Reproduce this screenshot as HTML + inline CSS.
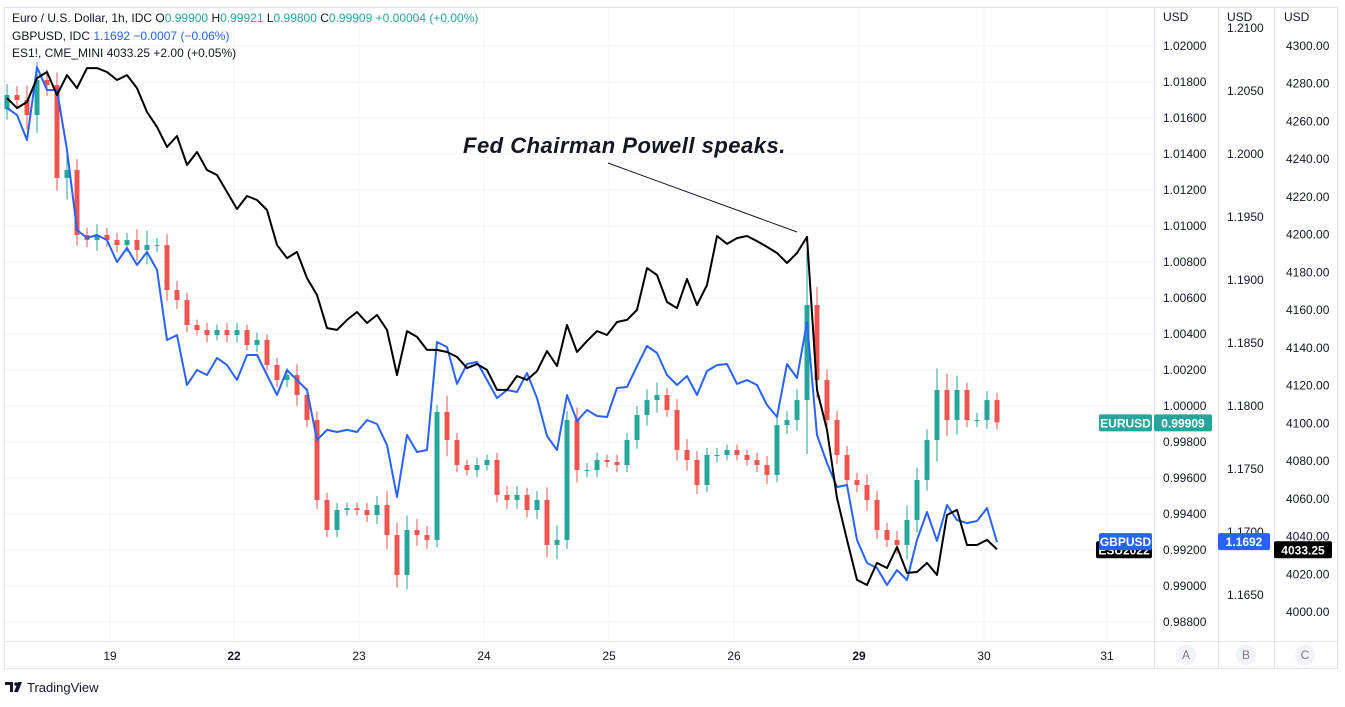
<!DOCTYPE html>
<html><head><meta charset="utf-8">
<style>
html,body{margin:0;padding:0;background:#fff;}
body{width:1345px;height:702px;overflow:hidden;font-family:"Liberation Sans",sans-serif;}
svg text{font-family:"Liberation Sans",sans-serif;}
</style></head>
<body>
<svg id="chart" width="1345" height="702" xmlns="http://www.w3.org/2000/svg">
</svg>
<script>
// ---- data ----
const dateLabels = ["19","22","23","24","25","26","29","30","31"];
const dateIdx = [10.3,22.7,35.2,47.7,60.2,72.7,85.2,97.7,110.0];
const boldDates = ["22","29"];
const eurTicks = [1.02,1.018,1.016,1.014,1.012,1.010,1.008,1.006,1.004,1.002,1.000,0.998,0.996,0.994,0.992,0.990,0.988];
const gbpTicks = [1.2100,1.2050,1.2000,1.1950,1.1900,1.1850,1.1800,1.1750,1.1700,1.1650];
const esTicks = [4300,4280,4260,4240,4220,4200,4180,4160,4140,4120,4100,4080,4060,4040,4020,4000];
const eurClose = [1.01728,1.01700,1.01617,1.01811,1.01783,1.01267,1.01311,1.00950,1.00922,1.00950,
1.00922,1.00894,1.00922,1.00867,1.00894,1.00894,1.00644,1.00589,1.00450,1.00422,
1.00394,1.00422,1.00394,1.00422,1.00339,1.00367,1.00228,1.00144,1.00172,1.00061,
0.99922,0.99478,0.99311,0.99422,0.99433,0.99422,0.99394,0.99450,0.99283,0.99061,
0.99311,0.99283,0.99256,0.99967,0.99811,0.99672,0.99644,0.99672,0.99700,0.99506,
0.99478,0.99506,0.99422,0.99478,0.99228,0.99256,0.99922,0.99644,0.99644,0.99700,
0.99689,0.99672,0.99811,0.99950,1.00033,1.00061,0.99978,0.99756,0.99700,0.99561,
0.99728,0.99728,0.99756,0.99728,0.99700,0.99672,0.99617,0.99894,0.99922,1.00033,
1.00561,1.00144,0.99922,0.99728,0.99589,0.99561,0.99478,0.99311,0.99256,0.99228,
0.99367,0.99589,0.99811,1.00089,0.99922,1.00089,0.99922,0.99922,1.00033,0.99909];
const eurOpen0 = 1.01650;
const eurWick = [0.0006,0.0005,0.0008,0.0010,0.0006,0.0007,0.0012,0.0006,0.0004,0.0006,
0.0004,0.0004,0.0004,0.0006,0.0008,0.0004,0.0006,0.0005,0.0004,0.0003,
0.0004,0.0003,0.0004,0.0004,0.0003,0.0004,0.0003,0.0004,0.0004,0.0006,
0.0004,0.0005,0.0004,0.0004,0.0003,0.0003,0.0004,0.0005,0.0008,0.0007,
0.0008,0.0006,0.0005,0.0004,0.0009,0.0004,0.0003,0.0004,0.0003,0.0004,
0.0005,0.0005,0.0004,0.0005,0.0007,0.0008,0.0005,0.0007,0.0004,0.0004,
0.0003,0.0004,0.0004,0.0005,0.0006,0.0007,0.0004,0.0006,0.0006,0.0005,
0.0004,0.0004,0.0003,0.0003,0.0003,0.0004,0.0005,0.0004,0.0005,0.0006,
0.0030,0.0010,0.0006,0.0005,0.0005,0.0004,0.0006,0.0005,0.0004,0.0005,
0.0008,0.0007,0.0006,0.0012,0.0009,0.0008,0.0004,0.0004,0.0005,0.0004];
const gbpValues = [1.20365,1.20310,1.20111,1.20690,1.20508,1.20508,1.20032,1.19397,1.19333,1.19357,
1.19317,1.19143,1.19254,1.19119,1.19222,1.19079,1.18524,1.18563,1.18167,1.18286,
1.18246,1.18381,1.18325,1.18206,1.18405,1.18405,1.18246,1.18087,1.18286,1.18206,
1.18127,1.17730,1.17810,1.17794,1.17810,1.17794,1.17889,1.17857,1.17690,1.17278,
1.17770,1.17635,1.17651,1.18508,1.18468,1.18175,1.18333,1.18349,1.18206,1.18063,
1.18127,1.18111,1.18262,1.18063,1.17762,1.17651,1.18087,1.17881,1.17968,1.17921,
1.17913,1.18143,1.18151,1.18317,1.18476,1.18421,1.18246,1.18167,1.18238,1.18087,
1.18278,1.18325,1.18333,1.18175,1.18206,1.18167,1.18008,1.17913,1.18333,1.18222,
1.18667,1.17770,1.17548,1.17357,1.17373,1.16937,1.16754,1.16714,1.16579,1.16698,
1.16619,1.16937,1.17159,1.16929,1.17214,1.17095,1.17071,1.17087,1.17190,1.16920];
const esValues = [4272.4,4267.1,4270.3,4283.0,4286.2,4274.0,4284.6,4277.7,4288.3,4288.3,
4286.2,4282.0,4284.6,4277.7,4265.0,4257.1,4246.5,4252.3,4236.9,4243.8,
4234.3,4231.6,4222.6,4213.6,4220.5,4218.4,4213.1,4194.5,4187.6,4190.8,
4177.0,4168.0,4150.5,4149.5,4154.8,4159.0,4153.2,4157.4,4149.5,4125.6,
4148.9,4145.8,4138.9,4138.9,4137.8,4135.2,4129.3,4131.4,4128.3,4117.7,
4117.7,4125.1,4123.0,4127.7,4138.3,4130.4,4152.1,4137.8,4143.6,4148.9,
4146.8,4153.7,4154.8,4160.1,4182.3,4178.6,4164.3,4161.1,4176.5,4162.7,
4173.3,4199.3,4195.1,4198.2,4199.3,4196.6,4193.5,4190.3,4185.0,4190.3,
4198.8,4117.7,4096.5,4060.4,4038.2,4017.0,4014.3,4026.0,4023.3,4034.5,
4020.7,4021.2,4026.0,4019.6,4051.4,4054.1,4035.5,4035.5,4038.2,4033.25];

// ---- axes ----
const NS = "http://www.w3.org/2000/svg";
const svg = document.getElementById('chart');
const X0 = 7, STEP = 10;
const xOf = i => X0 + i*STEP;
const yEur = v => 46 + (1.02 - v)/0.002*36;
const yGbp = v => 406 + (1.18 - v)*12600;
const yEs = v => 46 + (4300 - v)/300*566;
function mk(tag, attrs, parent){ const e=document.createElementNS(NS,tag); for(const k in attrs) e.setAttribute(k,attrs[k]); (parent||svg).appendChild(e); return e; }

// grid
const grid = mk('g',{}); 


eurTicks.forEach(t=>{ mk('line',{x1:5,x2:1154,y1:yEur(t),y2:yEur(t),stroke:'#f0f3fa','stroke-width':1},grid); });
dateLabels.forEach((d,k)=>{ const x=xOf(dateIdx[k]); mk('line',{x1:x,x2:x,y1:8,y2:641,stroke:'#f0f3fa','stroke-width':1},grid); });

// frame
const frame = mk('g',{fill:'none',stroke:'#e0e3eb','stroke-width':1});


mk('rect',{x:4.5,y:7.5,width:1333,height:661},frame);
[1154,1218,1274].forEach(x=>mk('line',{x1:x+0.5,x2:x+0.5,y1:8,y2:668},frame));
mk('line',{x1:5,x2:1338,y1:641.5,y2:641.5},frame);

// axis labels
function axisText(x,y,txt,name,opts){ const t=mk('text',Object.assign({x:x,y:y,'font-size':12,fill:'#131722'},opts||{})); t.textContent=txt;   return t; }
const ax = mk('g',{});


eurTicks.forEach(t=>{ axisText(1163,yEur(t)+4,t.toFixed(5),'eurusd-tick').remove; });
gbpTicks.forEach(t=>{ axisText(1227,yGbp(t)+4,t.toFixed(4),'gbpusd-tick'); });
esTicks.forEach(t=>{ axisText(1286,yEs(t)+4,t.toFixed(2),'es-tick'); });
[1163,1227,1284].forEach((x,k)=>axisText(x,21,'USD','axis-currency-'+['a','b','c'][k]));
dateLabels.forEach((d,k)=>{ const t=axisText(xOf(dateIdx[k]),660,d,'date-label-'+d,{'text-anchor':'middle','font-weight':boldDates.includes(d)?'bold':'normal'}); });
[['A',1186],['B',1246],['C',1305]].forEach(([l,x])=>{
  const c=mk('circle',{cx:x,cy:655,r:10,fill:'#f0f3fa'});
  
  
  axisText(x,659,l,'scale-letter-'+l.toLowerCase(),{'text-anchor':'middle',fill:'#787b86'});
});

// candles
const cg = mk('g',{});


eurClose.forEach((c,i)=>{
  const o = i===0 ? eurOpen0 : eurClose[i-1];
  const hi = Math.max(o,c)+eurWick[i], lo = Math.min(o,c)-eurWick[i];
  const col = c>=o ? '#26a69a' : '#ef5350';
  const x = xOf(i);
  const g = mk('g',{},cg);
  
  
  mk('line',{x1:x,x2:x,y1:yEur(hi),y2:yEur(lo),stroke:col,'stroke-width':1},g);
  const y1=yEur(Math.max(o,c)), y2=yEur(Math.min(o,c));
  mk('rect',{x:x-2.5,y:y1,width:5,height:Math.max(1,y2-y1),fill:col},g);
});

// lines
function line(vals, yf, col, name){
  const p = vals.map((v,i)=>(i?'L':'M')+xOf(i).toFixed(1)+','+yf(v).toFixed(1)).join(' ');
  const e = mk('path',{d:p,fill:'none',stroke:col,'stroke-width':2,'stroke-linejoin':'round'});
  
  
}
line(gbpValues, yGbp, '#2962ff', 'gbpusd-line');
line(esValues, yEs, '#000000', 'es-line');

// price tags
function tag(x,y,w,txt,bg,name,fg){ const g=mk('g',{});  
  mk('rect',{x:x,y:y,width:w,height:17,rx:2,fill:bg},g);
  const t=mk('text',{x:x+w/2,y:y+13,'text-anchor':'middle','font-size':12,'font-weight':'bold',fill:fg||'#fff'},g); t.textContent=txt; }
const lastE = eurClose[eurClose.length-1], lastG = gbpValues[gbpValues.length-1], lastS = esValues[esValues.length-1];
tag(1099,yEur(lastE)-8,53,'EURUSD','#26a69a','eurusd-name-tag');
tag(1154,yEur(lastE)-8,58,lastE.toFixed(5),'#26a69a','eurusd-price-tag');
tag(1096,yEs(lastS)-8,56,'ESU2022','#000','es-name-tag');
tag(1099,yGbp(lastG)-9,53,'GBPUSD','#2962ff','gbpusd-name-tag');
tag(1218,yGbp(lastG)-9,52,lastG.toFixed(4),'#2962ff','gbpusd-price-tag');
tag(1274,yEs(lastS)-8,58,lastS.toFixed(2),'#000','es-price-tag');

// annotation
const an = mk('g',{});  
mk('line',{x1:608,y1:163,x2:797,y2:232,stroke:'#131722','stroke-width':1},an);
const at = mk('text',{x:463,y:153,'font-size':22,'font-style':'italic','font-weight':'bold',fill:'#131722','letter-spacing':'0.5'},an);
at.textContent='Fed Chairman Powell speaks.';

// legend
const lg = mk('g',{'font-size':12});  
function leg(y,parts,name){ const t=mk('text',{x:12,y:y},lg);  
  parts.forEach(([s,c])=>{ const ts=mk('tspan',{fill:c},t); ts.textContent=s; }); }
const G='#26a69a', K='#131722', B='#2962ff';
leg(22,[['Euro / U.S. Dollar, 1h, IDC  O',K],['0.99900',G],['  H',K],['0.99921',G],['  L',K],['0.99800',G],['  C',K],['0.99909',G],['  +0.00004 (+0.00%)',G]],'legend-eurusd');
leg(40,[['GBPUSD, IDC  ',K],['1.1692  \u22120.0007 (\u22120.06%)',B]],'legend-gbpusd');
leg(57,[['ES1!, CME_MINI  4033.25  +2.00 (+0.05%)',K]],'legend-es');

// logo
const lo = mk('g',{});  
mk('path',{d:'M5 682h8v10h-3v-7h-5z M14 692l4-10h4l-4 10z',fill:'#131722'},lo);
mk('circle',{cx:16,cy:684,r:1.8,fill:'#131722'},lo);
const lt=mk('text',{x:27,y:692,'font-size':13,fill:'#131722'},lo); lt.textContent='TradingView';
</script>
</body></html>
